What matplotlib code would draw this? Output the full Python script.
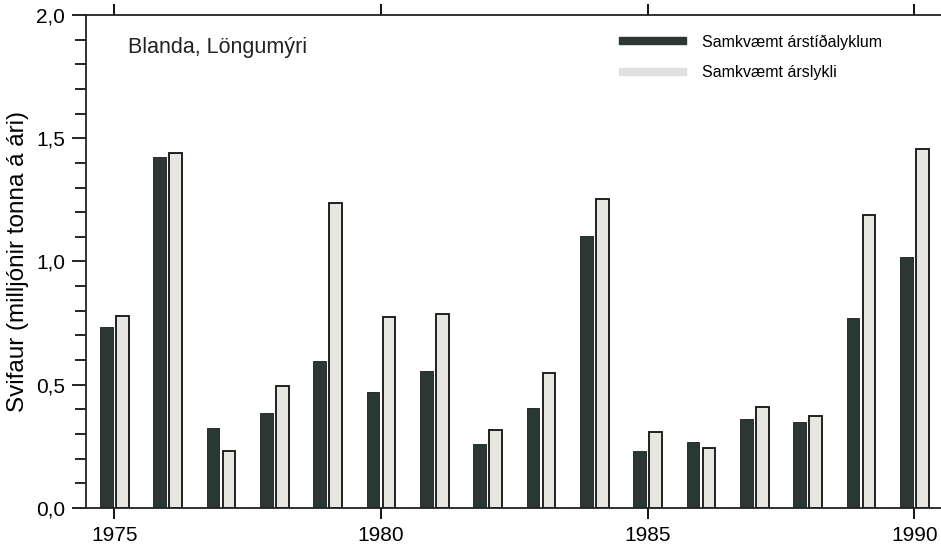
import matplotlib.pyplot as plt
from matplotlib.patches import Patch
from matplotlib.ticker import MultipleLocator, FuncFormatter

plt.rcParams['font.family'] = ['Liberation Sans', 'DejaVu Sans']

years = list(range(1975, 1991))
arstidalyklar = [0.734, 1.423, 0.326, 0.387, 0.595, 0.471, 0.557, 0.258,
                 0.407, 1.105, 0.230, 0.268, 0.361, 0.349, 0.771, 1.019]
arslykill = [0.779, 1.440, 0.231, 0.495, 1.239, 0.774, 0.787, 0.316,
             0.546, 1.252, 0.310, 0.245, 0.411, 0.373, 1.189, 1.456]
year_ticks = [1975, 1980, 1985, 1990]
dark = '#2a3735'
light = '#e7e7e1'

fig = plt.figure(figsize=(9.41, 5.47), dpi=100)
ax = fig.add_axes([0.0914, 0.0713, 0.9086, 0.9013])

w = 0.24
ax.bar([y - 0.15 for y in years], arstidalyklar, width=w, color=dark,
       edgecolor='#1a1a1a', linewidth=0.6)
ax.bar([y + 0.15 for y in years], arslykill, width=w, color=light,
       edgecolor='#111111', linewidth=1.3)

ax.set_xlim(1974.47, 1990.5)
ax.set_ylim(0, 2.0)
ax.set_xticks(year_ticks)
ax.yaxis.set_major_locator(MultipleLocator(0.5))
ax.yaxis.set_minor_locator(MultipleLocator(0.1))
ax.yaxis.set_major_formatter(FuncFormatter(lambda v, p: f'{v:.1f}'.replace('.', ',')))

ax.spines['right'].set_visible(False)
for s in ['left', 'bottom', 'top']:
    ax.spines[s].set_linewidth(1.3)
    ax.spines[s].set_color('#222222')
ax.tick_params(axis='x', which='both', direction='out', top=True, length=8,
               width=1.3, labelsize=15, pad=5)
ax.tick_params(axis='y', which='major', direction='out', length=10, width=1.2,
               labelsize=15, pad=5)
ax.tick_params(axis='y', which='minor', direction='out', length=8, width=1.2)

ax.set_ylabel('Svifaur (milljónir tonna á ári)', fontsize=17.5, labelpad=5)

ax.text(0.049, 0.935, 'Blanda, Löngumýri', transform=ax.transAxes,
        fontsize=15.5, va='center', ha='left', color='#222222')

handles = [Patch(facecolor=dark, edgecolor=dark),
           Patch(facecolor='#e0e0e0', edgecolor='#e0e0e0')]
ax.legend(handles, ['Samkvæmt árstíðalyklum', 'Samkvæmt árslykli'],
          loc='upper left', bbox_to_anchor=(0.607, 0.99), frameon=False,
          fontsize=11.5, handlelength=4.2, handleheight=0.3, labelspacing=1.0,
          handletextpad=1.0)

fig.savefig('out.png', dpi=100)
